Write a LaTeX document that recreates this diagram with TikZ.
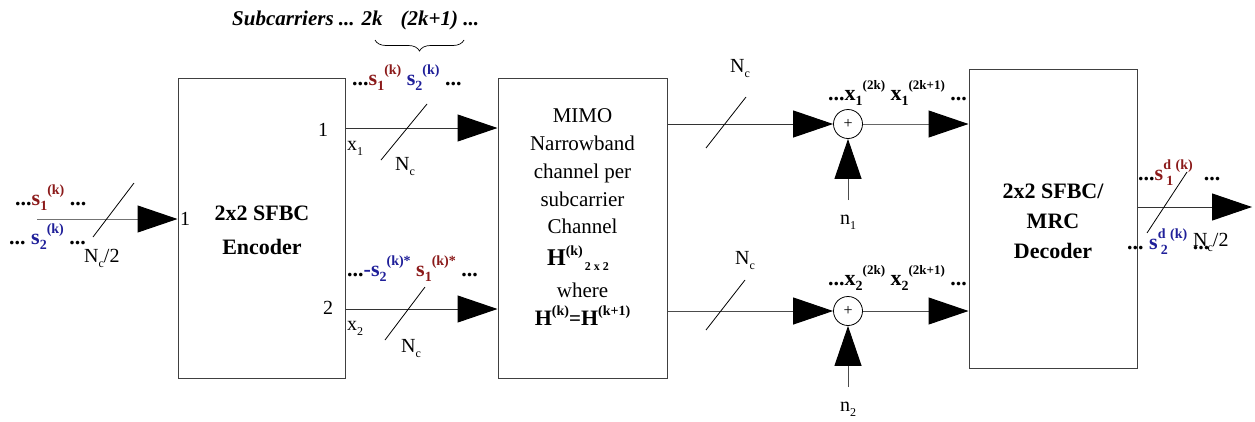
\documentclass[tikz,border=0pt]{standalone}
\usepackage{fontspec}
\setmainfont{Liberation Serif}
\usetikzlibrary{arrows.meta,decorations.pathreplacing}
\definecolor{sred}{HTML}{8B1A1A}
\definecolor{sblue}{HTML}{1F1F99}
\newcommand\lo[1]{\raisebox{-0.55ex}{\fontsize{14}{14}\selectfont\bfseries #1}}
\newcommand\hi[1]{\raisebox{1.0ex}{\fontsize{14}{14}\selectfont\bfseries #1}}
\newcommand\dts{\textbf{...}}
\newcommand\Nc{N\raisebox{-0.6ex}{\fontsize{12}{12}\selectfont c}}
\tikzset{
  blk/.style={draw=black!75, line width=1pt, inner sep=0},
  sig/.style={draw=black!80, line width=1pt, -{Triangle[length=40pt,width=27pt,color=black,fill=black]}},
  slash/.style={draw=black, line width=0.8pt},
  adder/.style={circle, draw=black, line width=0.8pt, minimum size=29pt, inner sep=0, font=\fontsize{16}{16}\selectfont},
  lbl/.style={font=\fontsize{20}{22}\selectfont, inner sep=0},
  sgl/.style={font=\fontsize{22}{22}\selectfont, inner sep=0, anchor=base west},
  ttl/.style={font=\fontsize{22}{34}\selectfont\bfseries, align=center, inner sep=0},
  body/.style={font=\fontsize{21}{21}\selectfont, inner sep=0, anchor=base},
}
\begin{document}
\begin{tikzpicture}[x=1pt,y=-1pt]
\useasboundingbox (0,0) rectangle (1255,421);
% boxes
\node[blk, minimum width=167pt, minimum height=300pt] (enc) at (261.5,228) {};
\node[blk, minimum width=169pt, minimum height=300pt] (mimo) at (582.5,228) {};
\node[blk, minimum width=168pt, minimum height=299pt] (dec) at (1053,218.5) {};
\node[ttl] (enct) at (262,230) {2x2 SFBC\\Encoder};
\node[ttl] (dect) at (1053,221) {2x2 SFBC/\\[-4pt]MRC\\[-4pt]Decoder};
% MIMO box text
\node[body] (m1) at (582.5,122) {MIMO};
\node[body] (m2) at (582.5,150) {Narrowband};
\node[body] (m3) at (582.5,178) {channel per};
\node[body] (m4) at (582.5,206) {subcarrier};
\node[body] (m5) at (582.5,233) {Channel};
\node[body] (m6) at (578,265) {\textbf{\fontsize{24}{24}\selectfont H}\hi{(k)}\lo{\fontsize{12}{12}\selectfont\,2 x 2}};
\node[body] (m7) at (582.5,297) {where};
\node[body] (m8) at (582.5,325) {\textbf{\fontsize{22}{22}\selectfont H}\hi{(k)}\textbf{=}\textbf{\fontsize{22}{22}\selectfont H}\hi{(k+1)}};
% adders
\node[adder] (a1) at (848,124) {+};
\node[adder] (a2) at (848,311) {+};
% coordinates
\coordinate (in) at (37,219);
\coordinate (y1) at (0,128);
\coordinate (y2) at (0,309);
\coordinate (nz1) at (848,200);
\coordinate (nz2) at (848,387);
\coordinate (out) at (1252,207);
% connectors
\draw[sig, draw=black!55] (in) -- (enc.west |- in);
\draw[sig] (enc.east |- y1) -- (mimo.west |- y1);
\draw[sig] (enc.east |- y2) -- (mimo.west |- y2);
\draw[sig] (mimo.east |- a1) -- (a1.west);
\draw[sig, draw=black!70] (mimo.east |- a2) -- (a2.west);
\draw[sig, draw=black!60] (a1.east) -- (dec.west |- a1);
\draw[sig, draw=black!70] (a2.east) -- (dec.west |- a2);
\draw[sig, draw=black!70] (nz1) -- (a1.south);
\draw[sig, draw=black!70] (nz2) -- (a2.south);
\draw[sig] (dec.east |- out) -- (out);
% slashes
\draw[slash] (93,237) -- (134,183);
\draw[slash] (381,160) -- (427,104);
\draw[slash] (385,340) -- (425,287);
\draw[slash] (706,148) -- (746,97);
\draw[slash] (706,330) -- (745,280);
\draw[slash] (1147,233) -- (1187,172);
% port labels
\node[lbl, anchor=west] (p0) at (180,219) {1};
\node[lbl] (p1) at (323,130) {1};
\node[lbl] (p2) at (328,308) {2};
\node[lbl, anchor=base west] (x1) at (347,150) {x\raisebox{-0.6ex}{\fontsize{12}{12}\selectfont 1}};
\node[lbl, anchor=base west] (x2) at (347,330) {x\raisebox{-0.6ex}{\fontsize{12}{12}\selectfont 2}};
\node[lbl, anchor=base west] (nc1) at (395,170) {\Nc};
\node[lbl, anchor=base west] (nc2) at (401,352) {\Nc};
\node[lbl, anchor=base west] (nc3) at (730,72) {\Nc};
\node[lbl, anchor=base west] (nc4) at (735,264) {\Nc};
\node[lbl, anchor=base west] (nc0) at (84,262) {\Nc/2};
\node[lbl, anchor=base west] (nc5) at (1193,246) {\Nc/2};
\node[lbl, anchor=base] (n1) at (848,224) {n\raisebox{-0.6ex}{\fontsize{12}{12}\selectfont 1}};
\node[lbl, anchor=base] (n2) at (848,411) {n\raisebox{-0.6ex}{\fontsize{12}{12}\selectfont 2}};
% signal labels
\node[sgl] (s0a) at (15,205) {\dts\textcolor{sred}{\textbf{s}\lo{1}\hi{(k)}}\ \dts};
\node[sgl] (s0b) at (9,244) {\dts\ \textcolor{sblue}{\textbf{s}\lo{2}\hi{(k)}}\ \dts};
\node[sgl] (s1) at (352,85) {\dts\textcolor{sred}{\textbf{s}\lo{1}\hi{(k)}}\ \textcolor{sblue}{\textbf{s}\lo{2}\hi{(k)}}\ \dts};
\node[sgl] (s2) at (347,276) {\dts\textcolor{sblue}{\textbf{-s}\lo{2}\hi{(k)*}}\ \textcolor{sred}{\textbf{s}\lo{1}\hi{(k)*}}\ \dts};
\node[sgl] (r1) at (828,100) {\dts\textbf{x}\lo{1}\hi{\fontsize{13}{13}\selectfont(2k)}\ \textbf{x}\lo{1}\hi{\fontsize{13}{13}\selectfont(2k+1)}\ \dts};
\node[sgl] (r2) at (828,285) {\dts\textbf{x}\lo{2}\hi{\fontsize{13}{13}\selectfont(2k)}\ \textbf{x}\lo{2}\hi{\fontsize{13}{13}\selectfont(2k+1)}\ \dts};
\node[sgl] (d1) at (1138,180) {\dts\textcolor{sred}{\textbf{s}\hi{d\,}\lo{\hspace{-7pt}1}\hi{\,(k)}}\ \ \dts};
\node[sgl] (d2) at (1127,249) {\dts\ \textcolor{sblue}{\textbf{s}\hi{d\,}\lo{\hspace{-7pt}2}\hi{\,(k)}}\ \dts};
% title and brace
\node[inner sep=0, anchor=base west, font=\fontsize{21}{21}\selectfont\bfseries\itshape] (sub) at (232,25) {Subcarriers ... 2k\hspace{18pt}(2k+1) ...};
\draw[line width=0.7pt, decoration={brace, mirror, amplitude=11pt}, decorate] (375,40) -- (464,40);
\end{tikzpicture}
\end{document}
